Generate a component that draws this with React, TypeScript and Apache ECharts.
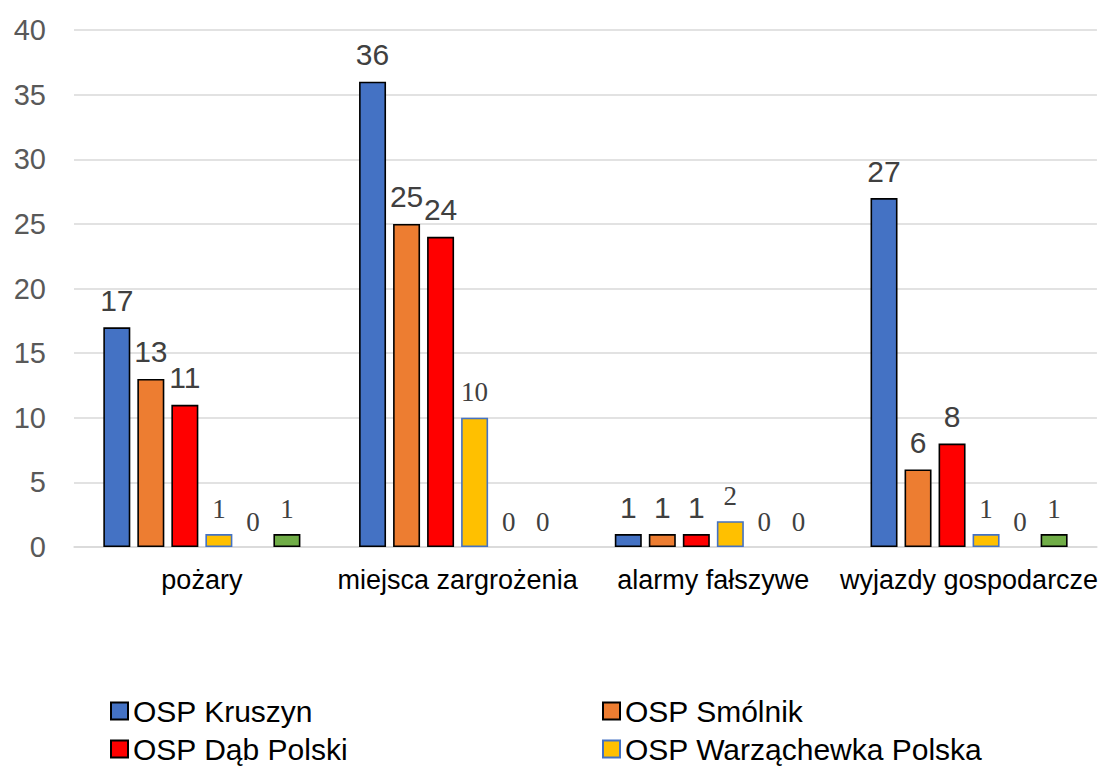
import React, { useEffect, useRef } from "react";
import * as echarts from "echarts";

const categories = ["pożary", "miejsca zargrożenia", "alarmy fałszywe", "wyjazdy gospodarcze"];
const seriesNames = ["OSP Kruszyn", "OSP Smólnik", "OSP Dąb Polski", "OSP Warząchewka Polska", "Seria 5", "Seria 6"];
const kruszyn = [17, 36, 1, 27];
const smolnik = [13, 25, 1, 6];
const dabPolski = [11, 24, 1, 8];
const warzachewka = [1, 10, 2, 1];
const seria5 = [0, 0, 0, 0];
const seria6 = [1, 0, 0, 1];
const yTicks = [0, 5, 10, 15, 20, 25, 30, 35, 40];

const colors = ["#4472c4", "#ed7d31", "#ff0000", "#ffc000", "#5b9bd5", "#70ad47"];
const borders = ["#000000", "#000000", "#000000", "#4472c4", "#000000", "#000000"];
const serifLabels = [false, false, false, true, true, true];

export default function App() {
  const ref = useRef<HTMLDivElement>(null);
  useEffect(() => {
    if (!ref.current) return;
    const chart = echarts.init(ref.current, null, { renderer: "svg" });
    const all = [kruszyn, smolnik, dabPolski, warzachewka, seria5, seria6];
    const series = all.map((vals, i) => ({
      name: seriesNames[i],
      type: "bar",
      barWidth: 27,
      barGap: "26%",
      data: vals.map((v) => ({
        value: v,
        itemStyle: { borderWidth: v === 0 ? 0 : 1.6 },
      })),
      itemStyle: { color: colors[i], borderColor: borders[i], borderWidth: 1.6 },
      label: {
        show: true,
        position: "top",
        distance: 12,
        color: "#404040",
        fontSize: serifLabels[i] ? 27 : 30,
        fontFamily: serifLabels[i] ? "Liberation Serif, serif" : "Liberation Sans, Arial, sans-serif",
      },
    }));
    const legendText = { fontSize: 30, color: "#000", fontFamily: "Liberation Sans, Arial, sans-serif" };
    const legendPos = [
      { left: 110, top: 696 },
      { left: 602, top: 696 },
      { left: 110, top: 734 },
      { left: 602, top: 734 },
    ];
    const legendOrder = [0, 1, 2, 3];
    const legends = legendOrder.map((si, k) => ({
      orient: "horizontal",
      left: legendPos[k].left,
      top: legendPos[k].top,
      icon: "rect",
      itemWidth: 17,
      itemHeight: 17,
      itemGap: 4,
      padding: 0,
      data: [seriesNames[si]],
      textStyle: legendText,
    }));
    chart.setOption({
      animation: false,
      backgroundColor: "#ffffff",
      grid: { left: 74, right: 3, top: 30, bottom: 223, containLabel: false },
      legend: legends,
      xAxis: {
        type: "category",
        data: categories,
        axisTick: { show: false },
        axisLine: { lineStyle: { color: "#d9d9d9", width: 1.5 } },
        axisLabel: {
          interval: 0,
          color: "#000",
          fontSize: 27,
          margin: 19,
          fontFamily: "Liberation Sans, Arial, sans-serif",
        },
      },
      yAxis: {
        type: "value",
        min: yTicks[0],
        max: yTicks[yTicks.length - 1],
        interval: 5,
        axisLine: { show: false },
        axisTick: { show: false },
        splitLine: { lineStyle: { color: "#d9d9d9", width: 1.5 } },
        axisLabel: {
          color: "#595959",
          fontSize: 29,
          margin: 28,
          fontFamily: "Liberation Sans, Arial, sans-serif",
        },
      },
      series,
    });
    return () => chart.dispose();
  }, []);
  return (
    <div
      ref={ref}
      style={{ position: "fixed", left: 0, top: 0, width: 1101, height: 770 }}
    />
  );
}
